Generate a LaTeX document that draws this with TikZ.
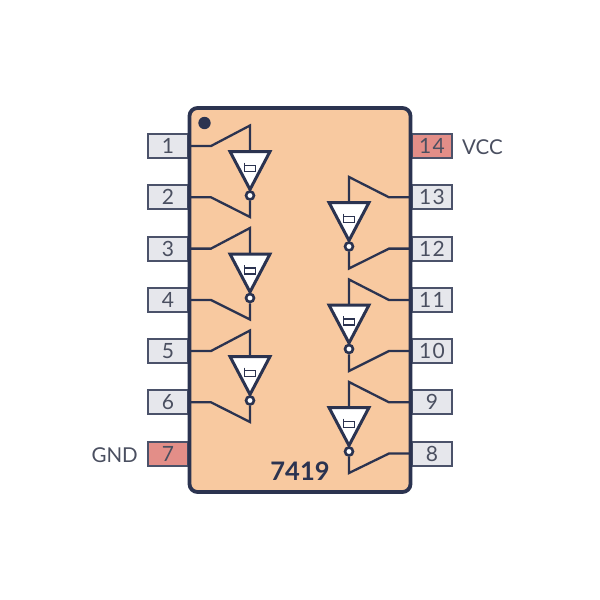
\documentclass[tikz,border=0pt]{standalone}
\usepackage{fontspec}
\setmainfont{Lato}
\definecolor{ink}{HTML}{2B3350}
\definecolor{chipfill}{HTML}{F8C9A0}
\definecolor{pinfill}{HTML}{E6E7EC}
\definecolor{pwrfill}{HTML}{E38E88}
\definecolor{txt}{HTML}{4A4F60}
\tikzset{
  x=1pt,y=-1pt,
  wire/.style={draw=ink,line width=2.3pt,line join=miter},
  chip/.style={draw=ink,fill=chipfill,line width=3.8pt,rounded corners=8pt},
  pinbox/.style={draw=ink!85,fill=pinfill,line width=2pt,minimum width=40pt,minimum height=24pt,inner sep=0pt,text=txt,font=\fontsize{21}{21}\selectfont\addfontfeature{LetterSpace=6}},
  pwrbox/.style={pinbox,fill=pwrfill},
  side/.style={text=txt,font=\fontsize{20.5}{20.5}\selectfont,inner sep=0pt},
  gatebody/.style={draw=ink,fill=white,line width=3pt,line join=miter},
  bubble/.style={circle,draw=ink,fill=white,line width=2.6pt,minimum size=8pt,inner sep=0pt},
}
% #1 name, #2 x, #3 y of the triangle top
\newcommand{\gatesym}[3]{%
  \coordinate (#1t) at (#2,#3);
  \draw[gatebody] (#2-20,#3) -- (#2+20,#3) -- (#2,#3+38) -- cycle;
  \draw[ink,line width=1.8pt] (#2-5.5,#3+11) -- (#2-5.5,#3+20) -- (#2+5.5,#3+20) -- (#2+5.5,#3+14) -- (#2-5.5,#3+14);
  \node[bubble] (#1b) at (#2,#3+44) {};
}
\begin{document}
\begin{tikzpicture}
\useasboundingbox (0,0) rectangle (600,600);
\foreach \n/\y in {1/146,2/197.3,3/248.6,4/300,5/351,6/402.3}{
  \node[pinbox] (p\n) at (168,\y) {\n};
}
\node[pwrbox] (p7) at (168,453.5) {7};
\node[pwrbox] (p14) at (432,146) {14};
\foreach \n/\y in {13/197.3,12/248.6,11/300,10/351,9/402.3,8/453.5}{
  \node[pinbox] (p\n) at (432,\y) {\n};
}
\node[side,anchor=east] (gnd) at (138,455) {GND};
\node[side,anchor=west] (vcc) at (462,147) {VCC};
\draw[chip] (189.5,108) rectangle (410.5,492);
\fill[ink] (204.5,123) circle (6.2);
\node[text=ink,font=\fontsize{25.5}{25.5}\selectfont\bfseries,inner sep=0pt] (name) at (300,471) {7419};
% left gates
\gatesym{a}{250}{151.5}
\gatesym{b}{250}{254}
\gatesym{c}{250}{356.5}
% right gates
\gatesym{d}{349}{202.5}
\gatesym{e}{349}{305}
\gatesym{f}{349}{407.5}
% left wiring
\coordinate (ai) at (250,125.5); \coordinate (ao) at (250,217);
\coordinate (bi) at (250,228); \coordinate (bo) at (250,319.5);
\coordinate (ci) at (250,330.5); \coordinate (co) at (250,422);
\draw[wire] (p1.east) -- ++(22,0) -- (ai) -- (at);
\draw[wire] (p2.east) -- ++(22,0) -- (ao) -- (ab);
\draw[wire] (p3.east) -- ++(22,0) -- (bi) -- (bt);
\draw[wire] (p4.east) -- ++(22,0) -- (bo) -- (bb);
\draw[wire] (p5.east) -- ++(22,0) -- (ci) -- (ct);
\draw[wire] (p6.east) -- ++(22,0) -- (co) -- (cb);
% right wiring
\coordinate (di) at (349,177); \coordinate (do) at (349,268.5);
\coordinate (ei) at (349,279.5); \coordinate (eo) at (349,371);
\coordinate (fi) at (349,382); \coordinate (fo) at (349,473);
\draw[wire] (p13.west) -- ++(-22,0) -- (di) -- (dt);
\draw[wire] (p12.west) -- ++(-22,0) -- (do) -- (db);
\draw[wire] (p11.west) -- ++(-22,0) -- (ei) -- (et);
\draw[wire] (p10.west) -- ++(-22,0) -- (eo) -- (eb);
\draw[wire] (p9.west) -- ++(-22,0) -- (fi) -- (ft);
\draw[wire] (p8.west) -- ++(-22,0) -- (fo) -- (fb);
\end{tikzpicture}
\end{document}
